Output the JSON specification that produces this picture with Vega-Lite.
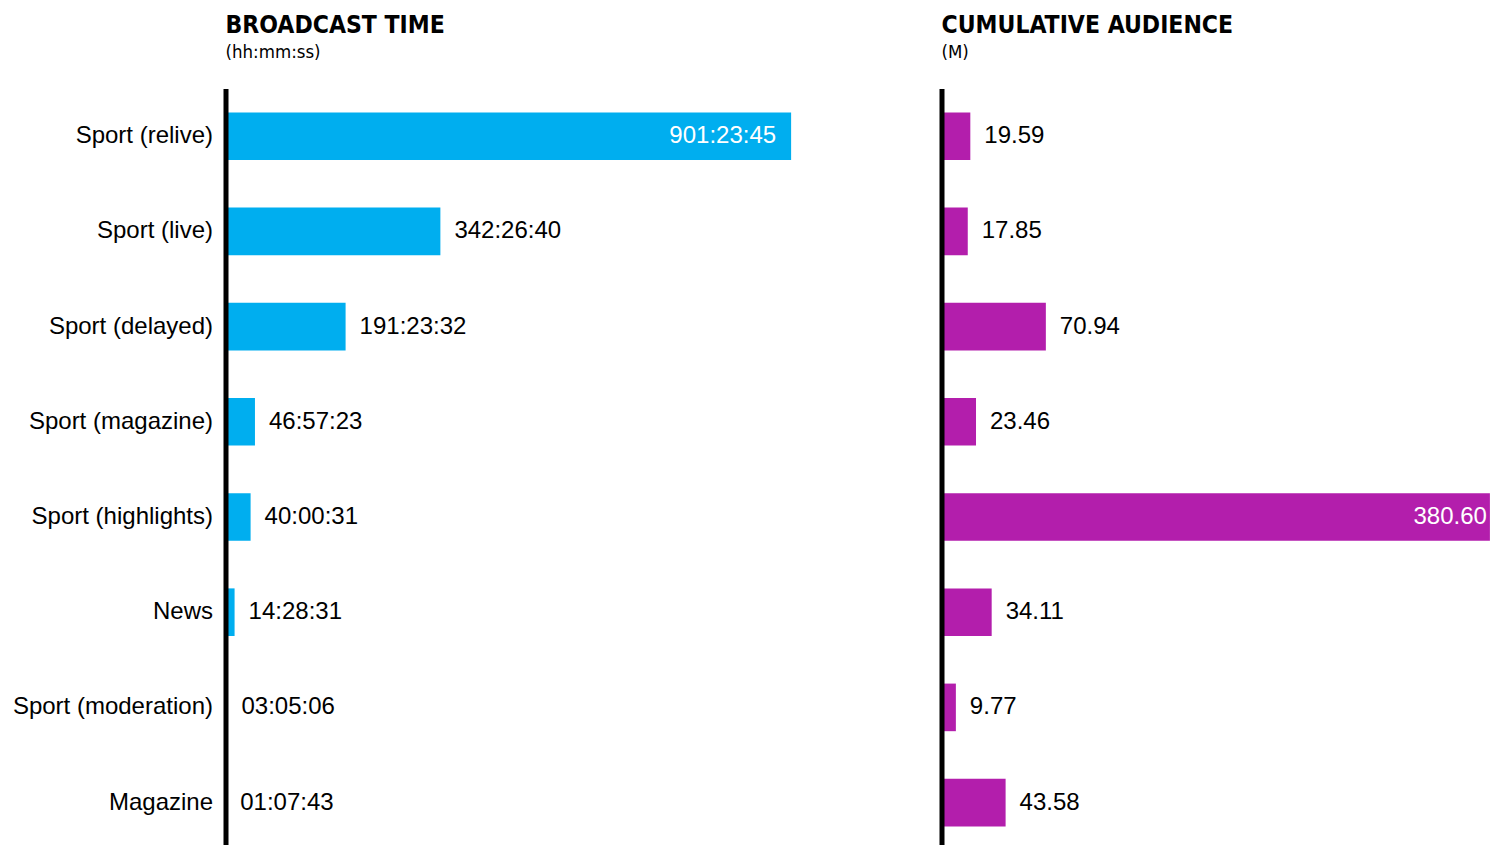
{
  "$schema": "https://vega.github.io/schema/vega-lite/v6.json",
  "padding": {"left": 11.5, "top": 12.6, "right": 0, "bottom": 0},
  "background": "white",
  "spacing": 150,
  "datasets": {
    "broadcast": [
      {"category": "Sport (relive)", "hours": 901.396, "label": "901:23:45"},
      {"category": "Sport (live)", "hours": 342.444, "label": "342:26:40"},
      {"category": "Sport (delayed)", "hours": 191.392, "label": "191:23:32"},
      {"category": "Sport (magazine)", "hours": 46.956, "label": "46:57:23"},
      {"category": "Sport (highlights)", "hours": 40.009, "label": "40:00:31"},
      {"category": "News", "hours": 14.475, "label": "14:28:31"},
      {"category": "Sport (moderation)", "hours": 3.085, "label": "03:05:06"},
      {"category": "Magazine", "hours": 1.129, "label": "01:07:43"}
    ],
    "audience": [
      {"category": "Sport (relive)", "audience": 19.59},
      {"category": "Sport (live)", "audience": 17.85},
      {"category": "Sport (delayed)", "audience": 70.94},
      {"category": "Sport (magazine)", "audience": 23.46},
      {"category": "Sport (highlights)", "audience": 380.60},
      {"category": "News", "audience": 34.11},
      {"category": "Sport (moderation)", "audience": 9.77},
      {"category": "Magazine", "audience": 43.58}
    ]
  },
  "config": {
    "view": {"stroke": null},
    "font": "Liberation Sans",
    "title": {
      "anchor": "start",
      "frame": "group",
      "font": "DejaVu Sans Condensed, Liberation Sans",
      "fontSize": 24.5,
      "fontWeight": "bold",
      "color": "black",
      "subtitleFont": "DejaVu Sans Condensed, Liberation Sans",
      "subtitleFontSize": 18.5,
      "subtitleColor": "black",
      "subtitlePadding": 5,
      "offset": 26
    }
  },
  "hconcat": [
    {
      "width": 566,
      "height": 756.4,
      "data": {"name": "broadcast"},
      "title": {"text": "BROADCAST TIME", "subtitle": "(hh:mm:ss)"},
      "encoding": {
        "y": {
          "field": "category",
          "type": "nominal",
          "sort": ["Sport (relive)", "Sport (live)", "Sport (delayed)", "Sport (magazine)", "Sport (highlights)", "News", "Sport (moderation)", "Magazine"],
          "scale": {"paddingInner": 0.5, "paddingOuter": 0.2227, "align": 0.561},
          "axis": {
            "title": null,
            "ticks": false,
            "tickSize": 0,
            "labelPadding": 13,
            "labelLimit": 0,
            "labelFontSize": 24,
            "labelFont": "Liberation Sans",
            "labelColor": "black",
            "domainColor": "black",
            "domainWidth": 5,
            "zindex": 1
          }
        },
        "x": {
          "field": "hours",
          "type": "quantitative",
          "scale": {"domain": [0, 902], "nice": false},
          "axis": null
        }
      },
      "layer": [
        {"mark": {"type": "bar", "color": "#00AEEF"}},
        {
          "transform": [{"filter": "datum.hours < 800"}],
          "mark": {"type": "text", "align": "left", "baseline": "middle", "dx": 14, "fontSize": 24, "color": "black"},
          "encoding": {"text": {"field": "label"}}
        },
        {
          "transform": [{"filter": "datum.hours >= 800"}],
          "mark": {"type": "text", "align": "right", "baseline": "middle", "dx": -15, "fontSize": 24, "color": "white"},
          "encoding": {"text": {"field": "label"}}
        }
      ]
    },
    {
      "width": 548.4,
      "height": 756.4,
      "data": {"name": "audience"},
      "title": {"text": "CUMULATIVE AUDIENCE", "subtitle": "(M)"},
      "encoding": {
        "y": {
          "field": "category",
          "type": "nominal",
          "sort": ["Sport (relive)", "Sport (live)", "Sport (delayed)", "Sport (magazine)", "Sport (highlights)", "News", "Sport (moderation)", "Magazine"],
          "scale": {"paddingInner": 0.5, "paddingOuter": 0.2227, "align": 0.561},
          "axis": {
            "title": null,
            "ticks": false,
            "tickSize": 0,
            "labels": false,
            "domainColor": "black",
            "domainWidth": 5,
            "zindex": 1
          }
        },
        "x": {
          "field": "audience",
          "type": "quantitative",
          "scale": {"domain": [0, 372.8], "nice": false, "clamp": true},
          "axis": null
        }
      },
      "layer": [
        {"mark": {"type": "bar", "color": "#B31EAC"}},
        {
          "transform": [{"filter": "datum.audience < 300"}],
          "mark": {"type": "text", "align": "left", "baseline": "middle", "dx": 14, "fontSize": 24, "color": "black"},
          "encoding": {"text": {"field": "audience", "format": ".2f"}}
        },
        {
          "transform": [{"filter": "datum.audience >= 300"}],
          "mark": {"type": "text", "align": "right", "baseline": "middle", "dx": -3, "fontSize": 24, "color": "white"},
          "encoding": {"text": {"field": "audience", "format": ".2f"}}
        }
      ]
    }
  ]
}
